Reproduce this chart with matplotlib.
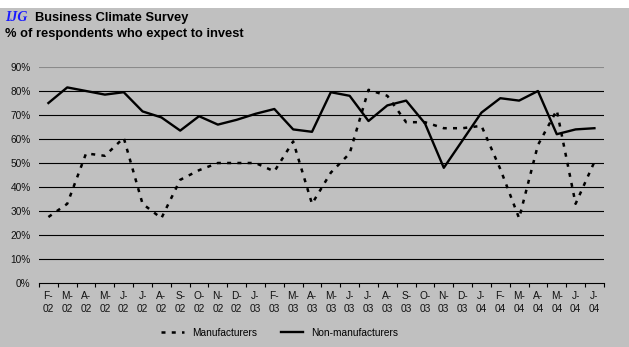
import matplotlib
matplotlib.use("Agg")
import matplotlib.pyplot as plt
from matplotlib.patches import Rectangle
import numpy as np

# === Données ===
mois = ["F-\n02", "M-\n02", "A-\n02", "M-\n02", "J-\n02", "J-\n02", "A-\n02", "S-\n02",
        "O-\n02", "N-\n02", "D-\n02", "J-\n03", "F-\n03", "M-\n03", "A-\n03", "M-\n03",
        "J-\n03", "J-\n03", "A-\n03", "S-\n03", "O-\n03", "N-\n03", "D-\n03", "J-\n04",
        "F-\n04", "M-\n04", "A-\n04", "M-\n04", "J-\n04", "J-\n04"]

manufacturiers = [27.5, 33, 54, 53, 60.5, 33, 27, 43, 47, 50, 50, 50, 46.5, 59, 33,
                  46, 54, 80.5, 78, 67, 67, 64.5, 64.5, 65.5, 47.5, 27, 57.5, 72, 33, 50.5]

non_manufacturiers = [75, 81.5, 80, 78.5, 79.5, 71.5, 69, 63.5, 69.5, 66, 68, 70.5, 72.5,
                      64, 63, 79.5, 78, 67.5, 74, 76, 66.5, 48, 59.5, 71, 77, 76, 80,
                      62, 64, 64.5]

gris = "#C0C0C0"
police = "Liberation Sans"

fig = plt.figure(figsize=(6.29, 3.47), dpi=100, facecolor=gris)
# bande blanche en haut
fig.patches.append(Rectangle((0, 1 - 8 / 347), 1, 8 / 347, transform=fig.transFigure,
                             facecolor="white", edgecolor="none", zorder=-1))

ax = fig.add_axes([0.062, 0.1844, 0.898, 0.6225])
ax.set_facecolor(gris)

x = np.arange(len(mois))
ax.plot(x, manufacturiers, color="black", lw=1.8, dashes=(1.6, 2.5),
        dash_capstyle="butt", label="Manufacturers")
ax.plot(x, non_manufacturiers, color="black", lw=1.7, label="Non-manufacturers")

ax.set_xlim(-0.5, len(mois) - 0.5)
ax.set_ylim(0, 90)

# Grille horizontale
for v in range(10, 90, 10):
    ax.axhline(v, color="black", lw=0.8, zorder=0)
ax.axhline(90, color="#8a8a8a", lw=0.8, zorder=0)

ax.set_yticks(range(0, 100, 10))
ax.set_yticklabels([f"{v}%" for v in range(0, 100, 10)], fontsize=7.3,
                   family=police, color="#111111")
ax.tick_params(axis="y", length=0, pad=6)

ax.set_xticks(x)
ax.set_xticklabels(mois, fontsize=7.3, family=police, color="#111111",
                   linespacing=1.3)
ax.set_xticks(np.arange(-0.5, len(mois), 1), minor=True)
ax.tick_params(axis="x", which="major", length=0, pad=6)
ax.tick_params(axis="x", which="minor", length=3, width=0.8, color="black")

for s in ["top", "right", "left"]:
    ax.spines[s].set_visible(False)
ax.spines["bottom"].set_linewidth(0.8)

# Titre
fig.text(0.008, 1 - 21 / 347, "IJG", fontsize=10, color="#1a1aff", style="italic",
         weight="bold", family="Liberation Serif", va="baseline")
fig.text(0.055, 1 - 21 / 347, "Business Climate Survey", fontsize=9.3, weight="bold",
         family=police, va="baseline")
fig.text(0.008, 1 - 37 / 347, "% of respondents who expect to invest", fontsize=9.3,
         weight="bold", family=police, va="baseline")

leg = fig.legend(loc="center", bbox_to_anchor=(0.445, 1 - 333 / 347), ncol=2,
                 frameon=False, prop={"family": police, "size": 7.3},
                 handlelength=2.2, handletextpad=0.8, columnspacing=2.4)

fig.savefig("out.png", dpi=100, facecolor=gris)
